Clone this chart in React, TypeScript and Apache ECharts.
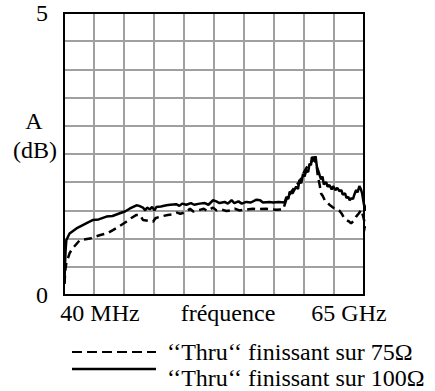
import React, { useEffect, useRef } from "react";
import * as echarts from "echarts";

// Frequency (GHz) vs attenuation A (dB)
const thru100: [number, number][] = [
  [0.1, 0.2], [0.2, 0.5], [0.35, 0.8], [0.5, 0.97], [1.2, 1.09], [2.7, 1.18], [4.8, 1.27], [6.3, 1.33],
  [7.5, 1.34], [9.2, 1.39], [10.5, 1.4], [12.1, 1.45], [13.2, 1.48], [14.2, 1.53], [15.7, 1.59], [16.3, 1.58],
  [17.1, 1.55], [17.6, 1.5], [18.0, 1.55], [18.6, 1.52], [19.1, 1.56], [19.6, 1.5], [20.0, 1.56], [21.0, 1.57],
  [22.2, 1.59], [23.0, 1.6], [24.3, 1.61], [25.0, 1.58], [25.6, 1.62], [26.5, 1.6], [27.5, 1.63], [28.2, 1.6],
  [29.4, 1.62], [30.5, 1.63], [31.3, 1.6], [32.3, 1.68], [33.0, 1.66], [33.7, 1.63], [34.8, 1.65], [35.5, 1.62],
  [36.3, 1.68], [36.9, 1.63], [37.8, 1.66], [38.5, 1.62], [39.5, 1.65], [40.5, 1.64], [41.7, 1.69], [42.5, 1.68],
  [43.1, 1.64], [44.5, 1.65], [45.3, 1.64], [46.5, 1.65], [47.8, 1.64], [48.2, 1.74], [48.6, 1.7], [48.9, 1.83],
  [49.5, 1.8], [50.3, 1.92], [50.7, 1.88], [51.0, 2.04], [51.4, 1.98], [51.8, 2.15], [52.1, 2.1], [52.5, 2.21],
  [52.9, 2.18], [53.2, 2.33], [53.5, 2.3], [53.7, 2.44], [54.1, 2.44], [54.3, 2.38], [54.5, 2.46], [54.8, 2.27],
  [55.1, 2.2], [55.4, 2.12], [55.7, 2.05], [56.0, 2.1], [56.3, 1.96], [56.8, 2.0], [57.1, 1.92], [57.5, 1.95],
  [58.0, 1.87], [58.3, 1.93], [58.8, 1.86], [59.2, 1.9], [59.7, 1.84], [60.1, 1.86], [60.4, 1.78], [60.9, 1.8],
  [61.2, 1.72], [61.6, 1.74], [61.9, 1.68], [62.3, 1.72], [62.6, 1.7], [63.0, 1.8], [63.3, 1.86], [63.6, 1.82],
  [64.0, 1.93], [64.3, 1.88], [64.6, 1.8], [64.9, 1.65], [65.1, 1.55], [65.4, 1.5], [65.7, 1.62], [66.0, 1.45],
  [66.4, 1.6],
];

const thru75: [number, number][] = [
  [0.1, 0.2], [0.3, 0.45], [0.5, 0.56], [1.2, 0.74], [1.9, 0.83], [3.4, 0.97], [5.6, 1.0], [7.7, 1.06],
  [9.5, 1.1], [10.6, 1.15], [12.0, 1.22], [13.5, 1.3], [14.5, 1.36], [15.7, 1.42], [16.5, 1.42], [17.1, 1.33],
  [19.3, 1.3], [19.8, 1.36], [20.5, 1.38], [21.4, 1.4], [22.5, 1.42], [23.6, 1.43], [24.5, 1.46], [25.2, 1.44],
  [26.5, 1.47], [27.3, 1.53], [28.0, 1.48], [29.4, 1.51], [30.3, 1.53], [31.0, 1.49], [32.3, 1.55], [33.0, 1.5],
  [34.0, 1.52], [35.2, 1.49], [36.0, 1.5], [37.0, 1.53], [38.0, 1.5], [39.0, 1.51], [40.9, 1.53], [42.0, 1.52],
  [43.8, 1.53], [45.0, 1.52], [46.0, 1.51], [47.5, 1.52], [48.2, 1.7], [49.0, 1.8], [50.3, 1.95], [51.0, 2.0],
  [51.8, 2.15], [52.5, 2.25], [53.2, 2.33], [53.8, 2.38], [54.3, 2.4], [54.8, 2.25], [55.0, 2.1], [55.4, 1.95],
  [55.7, 1.8], [56.1, 1.75], [56.5, 1.68], [57.0, 1.65], [57.5, 1.6], [58.3, 1.55], [59.0, 1.53], [59.6, 1.5],
  [60.1, 1.45], [60.6, 1.38], [61.2, 1.33], [61.8, 1.3], [62.2, 1.27], [62.8, 1.32], [63.3, 1.39], [63.9, 1.45],
  [64.4, 1.51], [64.8, 1.4], [65.1, 1.3], [65.5, 1.2], [65.8, 1.08], [66.2, 0.98], [66.6, 0.9],
];

const yTickLabels = ["0", "5"];
const xLabels = ["40 MHz", "fréquence", "65 GHz"];
const yTitle = ["A", "(dB)"];
const legendLabels = ["‘‘Thru‘‘ finissant sur 75Ω", "‘‘Thru‘‘ finissant sur 100Ω"];

const FONT = "Liberation Serif";
const FS = 24;

export default function App() {
  const ref = useRef<HTMLDivElement>(null);
  useEffect(() => {
    if (!ref.current) return;
    const chart = echarts.init(ref.current, undefined, { renderer: "svg" });
    const txt = (text: string, x: number, y: number, align = "center") => ({
      type: "text",
      x,
      y,
      z: 10,
      style: {
        text,
        fontFamily: FONT,
        fontSize: FS,
        fill: "#000",
        align,
        verticalAlign: "middle",
      },
    });
    chart.setOption({
      animation: false,
      backgroundColor: "#fff",
      grid: { left: 64, right: 71, top: 13, bottom: 96, show: true, borderColor: "#000", borderWidth: 2, backgroundColor: "transparent", z: 3 },
      xAxis: {
        type: "value",
        min: 0,
        max: 65,
        interval: 6.5,
        axisLine: { show: false },
        axisTick: { show: false },
        axisLabel: { show: false },
        splitLine: { show: true, lineStyle: { color: "#a0a0a0", width: 2 } },
      },
      yAxis: {
        type: "value",
        min: 0,
        max: 5,
        interval: 0.5,
        axisLine: { show: false },
        axisTick: { show: false },
        axisLabel: {
          margin: 16,
          fontFamily: FONT,
          fontSize: FS,
          color: "#000",
          formatter: (v: number) => (v === 0 ? yTickLabels[0] : v === 5 ? yTickLabels[1] : ""),
        },
        splitLine: { show: true, lineStyle: { color: "#a0a0a0", width: 2 } },
      },
      series: [
        {
          name: legendLabels[0],
          type: "line",
          data: thru75,
          showSymbol: false,
          clip: false,
          z: 4,
          lineStyle: { color: "#000", width: 2.5, type: [8, 5] },
        },
        {
          name: legendLabels[1],
          type: "line",
          data: thru100,
          showSymbol: false,
          clip: false,
          z: 5,
          lineStyle: { color: "#000", width: 2.5 },
        },
      ],
      graphic: [
        txt(yTitle[0], 34, 121),
        txt(yTitle[1], 35, 150),
        txt(xLabels[0], 100, 313),
        txt(xLabels[1], 228, 313),
        txt(xLabels[2], 349, 313),
        { type: "line", z: 10, shape: { x1: 72, y1: 352, x2: 156, y2: 352 }, style: { stroke: "#000", lineWidth: 2, lineDash: [10, 5] } },
        { type: "line", z: 10, shape: { x1: 72, y1: 369, x2: 156, y2: 369 }, style: { stroke: "#000", lineWidth: 2.5 } },
        txt(legendLabels[0], 167, 352, "left"),
        txt(legendLabels[1], 167, 378, "left"),
      ],
    });
    return () => chart.dispose();
  }, []);
  return <div ref={ref} style={{ position: "absolute", left: 0, top: 0, width: 435, height: 391 }} />;
}
